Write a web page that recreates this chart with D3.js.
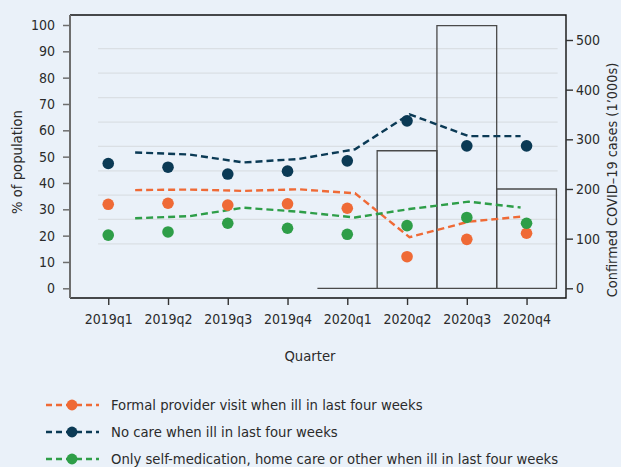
<!DOCTYPE html>
<html>
<head>
<meta charset="utf-8">
<script src="https://cdn.jsdelivr.net/npm/d3@7"></script>
<style>
  body { margin: 0; background: #eaf1f9; }
  svg text { font-family: "DejaVu Sans Condensed", sans-serif; fill: #2b2b2b; }
</style>
</head>
<body>
<svg id="chart"></svg>
<script>
// quarters on the x axis
const quarters = ["2019q1", "2019q2", "2019q3", "2019q4", "2020q1", "2020q2", "2020q3", "2020q4"];

// survey shares (% of population), one dot per quarter
const formalDots = [31.9, 32.3, 31.6, 32.1, 30.4, 12.0, 18.6, 20.9];
const noCareDots = [47.4, 46.0, 43.4, 44.5, 48.4, 63.6, 54.1, 54.1];
const selfDots   = [20.2, 21.4, 24.7, 22.8, 20.5, 23.8, 26.9, 24.7];

const linePos     = [0.45, 1.36, 2.26, 3.18, 4.13, 5.04, 6.03, 6.90];
const formalLine  = [37.3, 37.5, 37.0, 37.6, 36.1, 19.4, 25.3, 27.2];
const noCareLine  = [51.6, 50.8, 47.8, 49.1, 52.8, 66.1, 57.8, 57.8];
const selfLine    = [26.6, 27.4, 30.6, 29.1, 26.9, 30.1, 32.9, 30.7];

// confirmed covid cases, thousands
const covidQuarters = ["2020q1", "2020q2", "2020q3", "2020q4"];
const covidCases = [0, 277, 529, 200];

const leftTicks = [0, 10, 20, 30, 40, 50, 60, 70, 80, 90, 100];
const rightTicks = [0, 100, 200, 300, 400, 500];
const gridValues = [16.9, 26.2, 35.4, 44.6, 53.9, 63.1, 72.4, 81.7, 91.0];

const seriesNames = [
  "Formal provider visit when ill in last four weeks",
  "No care when ill in last four weeks",
  "Only self-medication, home care or other when ill in last four weeks"
];
const colors = ["#ef6a36", "#0b3a55", "#2e9e48"];

const w = 621, h = 467;
const padL = 70, padR = 566, padT = 15, padB = 298;

const svg = d3.select("#chart").attr("width", w).attr("height", h);
svg.append("rect").attr("width", w).attr("height", h).attr("fill", "#eaf1f9");

const x = d3.scaleLinear().domain([-0.64, 7.66]).range([padL, padR]);
const yL = d3.scaleLinear().domain([0, 100]).range([288.3, 25]);
const yR = d3.scaleLinear().domain([0, 500]).range([288.3, 40]);
const step = x(1) - x(0);

// grid lines
svg.append("g").selectAll("line")
  .data(gridValues)
  .join("line")
  .attr("x1", x(-0.17)).attr("x2", x(7.52))
  .attr("y1", d => yL(d)).attr("y2", d => yL(d))
  .attr("stroke", "#dadfe4").attr("stroke-width", 1.2);

// covid bars (hollow), drawn as paths so a zero bar still shows its base
const barPath = (d, i) => {
  const cx = x(quarters.indexOf(covidQuarters[i]));
  const x0 = cx - step * 0.5, x1 = cx + step * 0.5;
  return `M${x0},${yR(0)}V${yR(d)}H${x1}V${yR(0)}Z`;
};
svg.append("g").selectAll("path")
  .data(covidCases)
  .join("path")
  .attr("d", barPath)
  .attr("fill", "none")
  .attr("stroke", "#4a4a4a")
  .attr("stroke-width", 1.3);

// frame
svg.append("path")
  .attr("d", `M${padL},${padT}H${padR}V${padB}H${padL}`)
  .attr("fill", "none").attr("stroke", "#111").attr("stroke-width", 1.4);
svg.append("line")
  .attr("x1", padL).attr("x2", padL).attr("y1", padT).attr("y2", padB)
  .attr("stroke", "#6e6e6e").attr("stroke-width", 2);

// axes
const yAxisL = d3.axisLeft(yL).tickValues(leftTicks).tickSize(7).tickPadding(8);
const gL = svg.append("g").attr("transform", `translate(${padL},0)`).call(yAxisL);
gL.select(".domain").remove();
gL.selectAll("line").attr("stroke", "#6e6e6e").attr("stroke-width", 1.5);

const yAxisR = d3.axisRight(yR).tickValues(rightTicks).tickSize(7).tickPadding(3);
const gR = svg.append("g").attr("transform", `translate(${padR},0)`).call(yAxisR);
gR.select(".domain").remove();
gR.selectAll("line").attr("stroke", "#333").attr("stroke-width", 1.4);

const xAxis = d3.axisBottom(x).tickValues(d3.range(quarters.length))
  .tickFormat(i => quarters[i]).tickSize(7).tickPadding(9);
const gX = svg.append("g").attr("transform", `translate(0,${padB})`).call(xAxis);
gX.select(".domain").remove();
gX.selectAll("line").attr("stroke", "#333").attr("stroke-width", 1.4);

svg.selectAll(".tick text").attr("font-size", 14).attr("fill", "#2b2b2b")
  .style("font-family", '"DejaVu Sans Condensed", sans-serif');

// axis titles
svg.append("text").attr("transform", "translate(22,162) rotate(-90)")
  .attr("text-anchor", "middle").attr("font-size", 14.7).text("% of population");
svg.append("text").attr("transform", "translate(617,180) rotate(-90)")
  .attr("text-anchor", "middle").attr("font-size", 14.4).text("Confirmed COVID\u201319 cases (1\u2019000s)");
svg.append("text").attr("x", 310).attr("y", 361)
  .attr("text-anchor", "middle").attr("font-size", 14.7).text("Quarter");

// dashed lines
const lineData = [formalLine, noCareLine, selfLine];
const dotData = [formalDots, noCareDots, selfDots];
const line = d3.line().x((d, i) => x(linePos[i])).y(d => yL(d));

svg.append("g").selectAll("path")
  .data(lineData)
  .join("path")
  .attr("d", line)
  .attr("fill", "none")
  .attr("stroke", (d, i) => colors[i])
  .attr("stroke-width", 2.4)
  .attr("stroke-dasharray", "7,4");

// dots
dotData.forEach((s, k) => {
  svg.append("g").selectAll("circle")
    .data(s)
    .join("circle")
    .attr("cx", (d, i) => x(i))
    .attr("cy", d => yL(d))
    .attr("r", 5.8)
    .attr("fill", colors[k]);
});

// legend
const legend = svg.append("g");
const rowY = [405, 432, 459];
seriesNames.forEach((name, k) => {
  const g = legend.append("g").attr("transform", `translate(0,${rowY[k]})`);
  g.append("line").attr("x1", 46).attr("x2", 99).attr("y1", 0).attr("y2", 0)
    .attr("stroke", colors[k]).attr("stroke-width", 2.4).attr("stroke-dasharray", "6,4");
  g.append("circle").attr("cx", 72).attr("cy", 0).attr("r", 5.4).attr("fill", colors[k]);
  g.append("text").attr("x", 111).attr("y", 0).attr("dy", "0.35em")
    .attr("font-size", 14.7).text(name);
});
</script>
</body>
</html>
